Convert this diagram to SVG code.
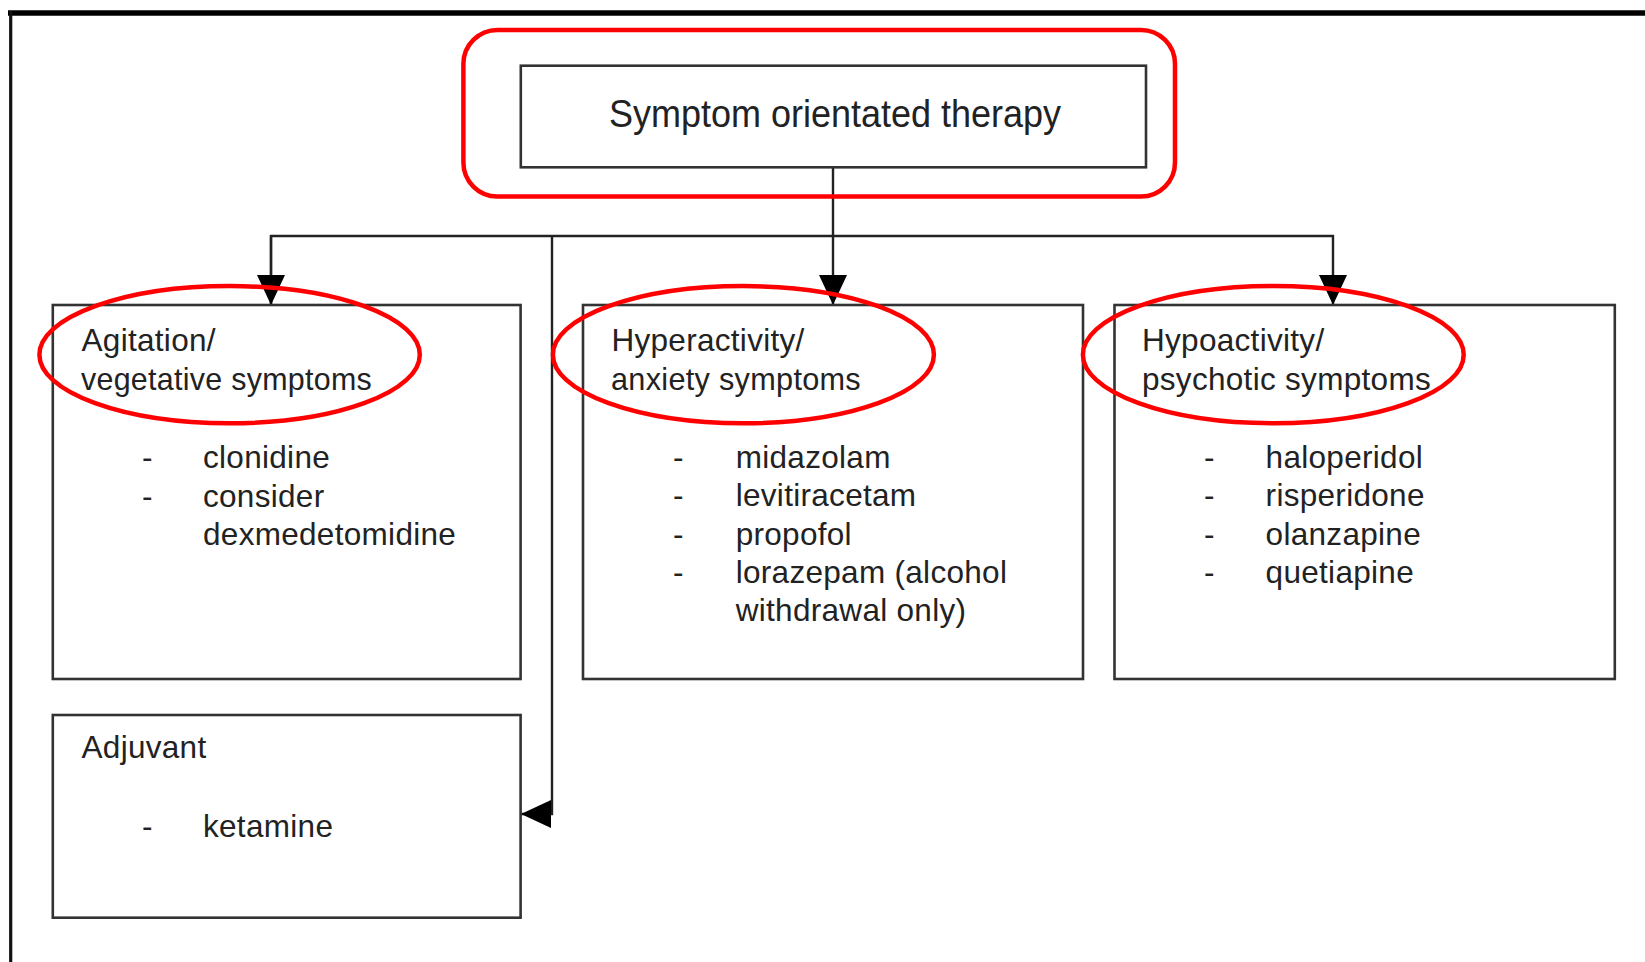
<svg xmlns="http://www.w3.org/2000/svg" width="1645" height="962" viewBox="0 0 1645 962">
<style>
.box{fill:#fff;stroke:#333;stroke-width:2.6}
.red{fill:none;stroke:#ff0000;stroke-width:4.5}
.con{fill:none;stroke:#222;stroke-width:2.4}
.t{font-family:"Liberation Sans",Arial,sans-serif;font-size:31.5px;letter-spacing:0.3px;fill:#222}
.title{font-family:"Liberation Sans",Arial,sans-serif;font-size:38px;fill:#222}
</style>
<defs>
<marker id="arr" viewBox="0 0 30 28" refX="30" refY="14" markerWidth="30" markerHeight="28" markerUnits="userSpaceOnUse" orient="auto">
<path d="M0,0 L30,14 L0,28 z" fill="#000"/>
</marker>
</defs>
<rect x="0" y="0" width="1645" height="962" fill="#fff"/>
<g id="frame">
<line x1="8" y1="13" x2="1645" y2="13" stroke="#000" stroke-width="5.5"/>
<line x1="10.7" y1="11" x2="10.7" y2="962" stroke="#111" stroke-width="3.2"/>
</g>
<g id="connectors">
<line class="con" x1="833" y1="167" x2="833" y2="305" marker-end="url(#arr)"/>
<polyline class="con" points="271,305 271,236 1333,236 1333,305" marker-end="url(#arr)"/>
<path class="con" d="M271,236 L271,305" marker-end="url(#arr)"/>
<polyline class="con" points="552,236 552,814 521,814" marker-end="url(#arr)"/>
</g>
<g id="root">
<rect class="box" x="520.8" y="65.7" width="625.2" height="101.6"/>
<text class="title" x="835" y="126.5" text-anchor="middle" textLength="452" lengthAdjust="spacingAndGlyphs">Symptom orientated therapy</text>
<rect class="red" x="463.4" y="30" width="711.6" height="166.5" rx="34" ry="34"/>
</g>
<g id="agitation">
<rect class="box" x="52.8" y="305" width="467.8" height="374"/>
<text class="t" x="81.5" y="350.7">Agitation/</text>
<text class="t" x="81" y="390" textLength="291" lengthAdjust="spacingAndGlyphs">vegetative symptoms</text>
<text class="t" x="142" y="468.3">-</text>
<text class="t" x="203" y="468.3">clonidine</text>
<text class="t" x="142" y="506.7">-</text>
<text class="t" x="203" y="506.7">consider</text>
<text class="t" x="203" y="545">dexmedetomidine</text>
<ellipse class="red" cx="229.6" cy="354.7" rx="190.2" ry="68.6"/>
</g>
<g id="hyperactivity">
<rect class="box" x="583" y="305" width="500" height="374"/>
<text class="t" x="611.4" y="350.7">Hyperactivity/</text>
<text class="t" x="611" y="390" textLength="250" lengthAdjust="spacingAndGlyphs">anxiety symptoms</text>
<text class="t" x="673" y="467.5">-</text>
<text class="t" x="735.7" y="467.5">midazolam</text>
<text class="t" x="673" y="506">-</text>
<text class="t" x="735.7" y="506">levitiracetam</text>
<text class="t" x="673" y="545">-</text>
<text class="t" x="735.7" y="545">propofol</text>
<text class="t" x="673" y="583.3">-</text>
<text class="t" x="735.7" y="583.3">lorazepam (alcohol</text>
<text class="t" x="735.7" y="620.5">withdrawal only)</text>
<ellipse class="red" cx="743.4" cy="354.7" rx="190.5" ry="68.6"/>
</g>
<g id="hypoactivity">
<rect class="box" x="1114.5" y="305" width="500.3" height="374"/>
<text class="t" x="1142" y="350.7">Hypoactivity/</text>
<text class="t" x="1142" y="390" textLength="289" lengthAdjust="spacingAndGlyphs">psychotic symptoms</text>
<text class="t" x="1204" y="468">-</text>
<text class="t" x="1265.6" y="468">haloperidol</text>
<text class="t" x="1204" y="506">-</text>
<text class="t" x="1265.6" y="506">risperidone</text>
<text class="t" x="1204" y="545">-</text>
<text class="t" x="1265.6" y="545">olanzapine</text>
<text class="t" x="1204" y="583">-</text>
<text class="t" x="1265.6" y="583">quetiapine</text>
<ellipse class="red" cx="1273.3" cy="354.7" rx="190.4" ry="68.6"/>
</g>
<g id="adjuvant">
<rect class="box" x="52.8" y="715" width="467.8" height="202.7"/>
<text class="t" x="81.5" y="758.3">Adjuvant</text>
<text class="t" x="142" y="836.7">-</text>
<text class="t" x="203" y="836.7">ketamine</text>
</g>
</svg>
